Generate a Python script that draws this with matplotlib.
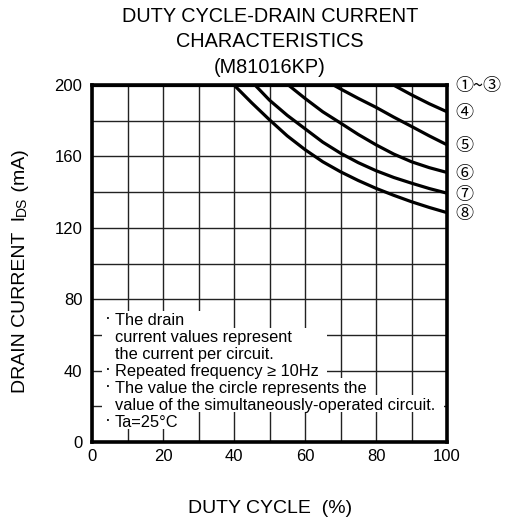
import matplotlib
matplotlib.use('Agg')
from matplotlib import pyplot as plt
from matplotlib.patches import Rectangle

plt.rcParams['font.family'] = ['Liberation Sans', 'DejaVu Sans', 'Noto Sans CJK JP']

# curves: duty cycle (%) -> drain current (mA)
curve_labels = ['①~③', '④', '⑤', '⑥', '⑦', '⑧']
duty_13 = [0, 100]
amps_13 = [200, 200]
duty_4 = [84.9, 90, 95, 100]
amps_4 = [200, 194.5, 189.5, 185]
duty_5 = [68, 70, 75, 80, 85, 90, 95, 100]
amps_5 = [200, 197.8, 192.5, 187.5, 182, 176.8, 171.5, 166.5]
duty_6 = [55.3, 60, 65, 70, 75, 80, 85, 90, 95, 100]
amps_6 = [200, 192.5, 185, 178.7, 172.3, 166.5, 161.3, 157, 153.7, 151]
duty_7 = [45.9, 50, 55, 60, 65, 70, 75, 80, 85, 90, 95, 100]
amps_7 = [200, 191.5, 183, 175.5, 168, 161.8, 156.5, 152, 148.2, 145, 142, 139.4]
duty_8 = [40, 45, 50, 55, 60, 65, 70, 75, 80, 85, 90, 95, 100]
amps_8 = [200, 190, 180.5, 171.5, 163.8, 157, 151.4, 146.5, 142.1, 138.2, 134.6, 131.4, 128.5]

xticks = [0, 20, 40, 60, 80, 100]
yticks = [0, 40, 80, 120, 160, 200]

notes = [
    ('·', 'The drain'),
    ('', 'current values represent'),
    ('', 'the current per circuit.'),
    ('·', 'Repeated frequency ≥ 10Hz'),
    ('·', 'The value the circle represents the'),
    ('', 'value of the simultaneously-operated circuit.'),
    ('·', 'Ta=25°C'),
]
# right edge of the white band behind each note line (duty %)
note_right = [35, 66.2, 66.2, 66.2, 78.9, 99.1, 27.6]

fig = plt.figure(figsize=(5.08, 5.23), dpi=100)
ax = fig.add_axes([92/508, 1 - 442/523, 355/508, 357/523])

ax.set_xlim(0, 100)
ax.set_ylim(0, 200)
ax.set_xticks(xticks)
ax.set_yticks(yticks)
ax.set_xticks(range(0, 101, 10), minor=True)
ax.set_yticks(range(0, 201, 20), minor=True)
ax.tick_params(which='both', length=0, labelsize=12, colors='black')
ax.tick_params(axis='y', pad=7)
ax.tick_params(axis='x', pad=5)
ax.set_axisbelow(True)
ax.grid(which='both', color='#222222', linewidth=1.0)
for s in ax.spines.values():
    s.set_linewidth(2.6)
    s.set_zorder(5)

series = [(duty_13, amps_13), (duty_4, amps_4), (duty_5, amps_5),
          (duty_6, amps_6), (duty_7, amps_7), (duty_8, amps_8)]
for (d, a), lab in zip(series, curve_labels):
    ax.plot(d, a, color='black', linewidth=2.3, solid_capstyle='butt', zorder=4)
    ax.text(102.3, a[-1] - 0.8, lab, fontsize=13, ha='left', va='center',
            clip_on=False, family=['Noto Sans CJK JP', 'DejaVu Sans'])

# note block with white bands covering the grid
base0, step = 65.5, 9.5
for i, ((bullet, line), right) in enumerate(zip(notes, note_right)):
    yb = base0 - i * step
    ax.add_patch(Rectangle((2.8, yb - 1.4), right - 2.8, step, facecolor='white',
                           edgecolor='none', zorder=1))
    if bullet:
        ax.text(3.6, yb + 1.0, bullet, fontsize=13, ha='left', va='baseline', zorder=3)
    ax.text(6.5, yb, line, fontsize=11.8, ha='left', va='baseline', zorder=3)

fig.text(270/508, 1 - 7/523, 'DUTY CYCLE-DRAIN CURRENT\nCHARACTERISTICS\n(M81016KP)',
         ha='center', va='top', fontsize=14.3, linespacing=1.42)
fig.text(270/508, 1 - 513/523, 'DUTY CYCLE  (%)', ha='center', va='baseline', fontsize=14)

t1 = fig.text(29/508, 1 - 393/523, 'DRAIN CURRENT  I', rotation=90,
              ha='right', va='bottom', fontsize=14)
t2 = ax.annotate('DS', xy=(1, 1), xycoords=t1, rotation=90, ha='right',
                 va='bottom', fontsize=10, annotation_clip=False)
t3 = ax.annotate(' (mA)', xy=(1, 1), xycoords=t2, rotation=90, ha='right',
                 va='bottom', fontsize=14, annotation_clip=False)

fig.savefig('out.png', dpi=100)
